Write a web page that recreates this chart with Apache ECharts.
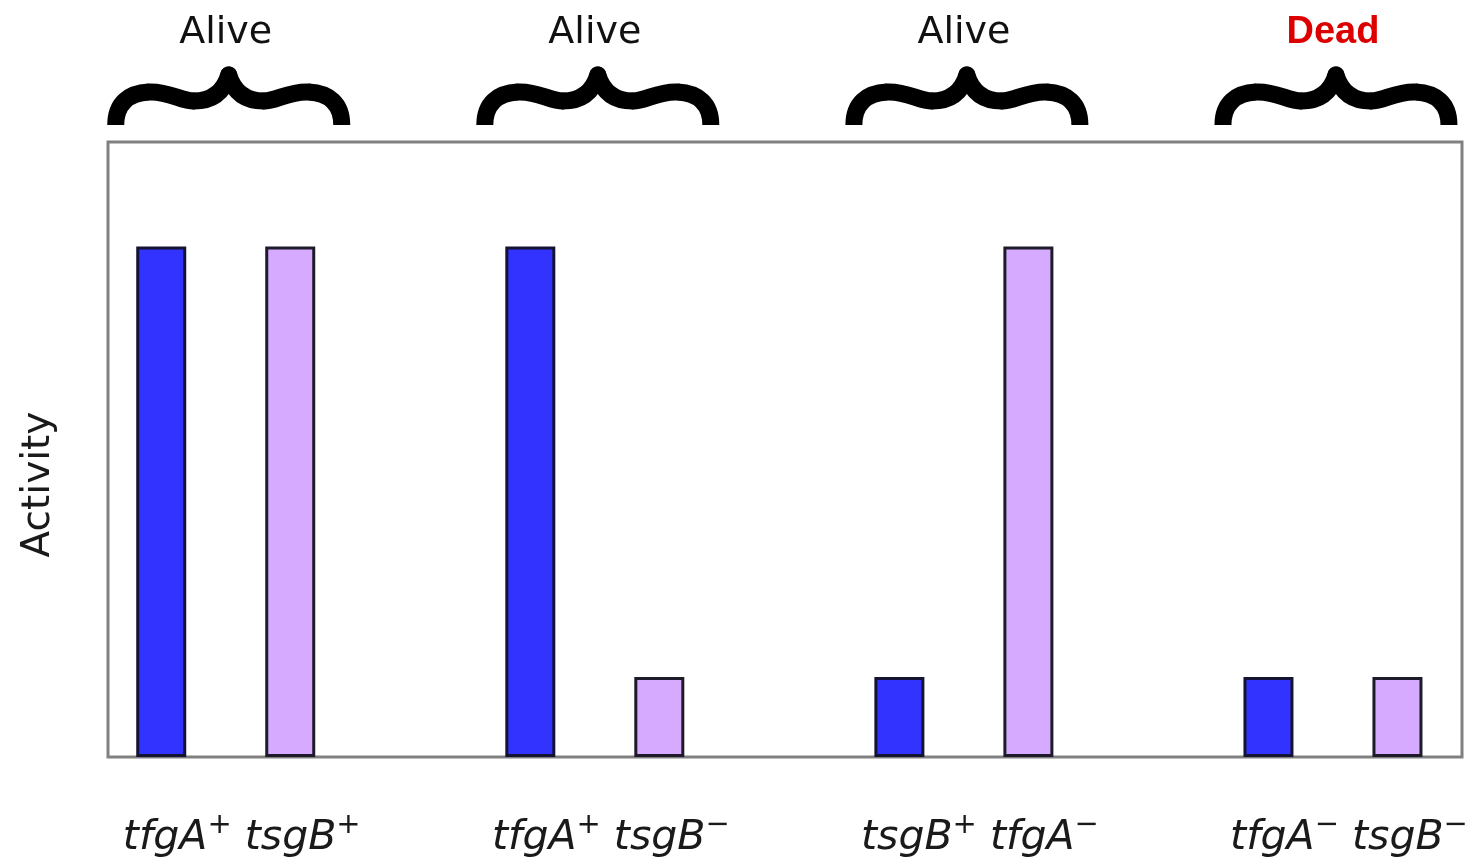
<!DOCTYPE html>
<html><head><meta charset="utf-8">
<script src="https://cdn.jsdelivr.net/npm/echarts@6/dist/echarts.min.js"></script>
<style>html,body{margin:0;padding:0;background:#fff}#c{width:1468px;height:861px}</style>
</head><body><div id="c"></div>
<script>
// ---- data ----
const categories = ['tfgA+ tsgB+', 'tfgA+ tsgB-', 'tsgB+ tfgA-', 'tfgA- tsgB-'];
const labelParts = [
  ['tfgA', '+', 'tsgB', '+'],
  ['tfgA', '+', 'tsgB', '\u2212'],
  ['tsgB', '+', 'tfgA', '\u2212'],
  ['tfgA', '\u2212', 'tsgB', '\u2212']
];
const statusLabels = ['Alive', 'Alive', 'Alive', 'Dead'];
const blueValues = [83, 83, 13, 13];
const lilacValues = [83, 13, 83, 13];
const yAxisName = 'Activity';

const FONT = 'Liberation Sans, Arial, sans-serif';
const DFONT = 'DejaVu Sans, sans-serif';
const chart = echarts.init(document.getElementById('c'));

chart.setOption({
  animation: false,
  backgroundColor: '#ffffff',
  grid: [
    { left: 41.2, width: 1476.3, top: 142, bottom: 104, outerBoundsMode: 'none', containLabel: false },
    { left: 108, right: 6, top: 142, bottom: 104, show: true, borderColor: '#808080', borderWidth: 3,
      backgroundColor: 'transparent', outerBoundsMode: 'none', containLabel: false }
  ],
  xAxis: [
    { type: 'category', gridIndex: 0, data: categories, position: 'bottom',
      axisLine: { show: false }, axisTick: { show: false }, splitLine: { show: false },
      axisLabel: {
        interval: 0, margin: 54, padding: [0, 0, 0, 32],
        formatter: function (v, i) {
          const p = labelParts[i];
          return '{i|' + p[0] + '}{s|' + p[1] + '}{sp| }{i|' + p[2] + '}{s|' + p[3] + '}';
        },
        rich: {
          i: { fontFamily: DFONT, fontStyle: 'italic', fontSize: 41, color: '#1a1a1a', lineHeight: 48, verticalAlign: 'bottom' },
          s: { fontFamily: DFONT, fontSize: 29, color: '#1a1a1a', lineHeight: 32, verticalAlign: 'top' },
          sp: { fontFamily: DFONT, fontSize: 41, lineHeight: 48 }
        }
      }
    },
    { type: 'category', gridIndex: 0, data: categories, position: 'top',
      axisLine: { show: false }, axisTick: { show: false }, splitLine: { show: false },
      axisLabel: {
        interval: 0, margin: 90,
        formatter: function (v, i) {
          return statusLabels[i] === 'Dead' ? '{d|' + statusLabels[i] + '}' : '{a|' + statusLabels[i] + '}';
        },
        rich: {
          a: { fontFamily: DFONT, fontSize: 38, color: '#111111' },
          d: { fontFamily: FONT, fontSize: 38, fontWeight: 'bold', color: '#dd0000' }
        }
      }
    },
    { type: 'value', gridIndex: 1, show: false, min: 0, max: 1 }
  ],
  yAxis: [
    { type: 'value', gridIndex: 0, min: 0, max: 100, show: false },
    { type: 'value', gridIndex: 1, min: 0, max: 1,
      axisLine: { show: false }, axisTick: { show: false }, axisLabel: { show: false }, splitLine: { show: false },
      name: yAxisName, nameLocation: 'middle', nameGap: 50, nameRotate: 90,
      nameTextStyle: { fontFamily: DFONT, fontSize: 39, color: '#1a1a1a', padding: [0, 70, 0, 0] }
    }
  ],
  series: [
    { name: 'tfgA', type: 'bar', xAxisIndex: 0, yAxisIndex: 0, data: blueValues,
      barWidth: 50, barGap: '158%',
      itemStyle: { color: '#3333ff', borderColor: '#141432', borderWidth: 3 } },
    { name: 'tsgB', type: 'bar', xAxisIndex: 0, yAxisIndex: 0, data: lilacValues,
      barWidth: 50, barGap: '158%',
      itemStyle: { color: '#d5aaff', borderColor: '#1e1a2a', borderWidth: 3 } }
  ]
});

// curly braces above each group, positioned through the category scale
const braceSegs = [
  // [x1,y1, cp1x,cp1y, cp2x,cp2y, x2,y2, cap] relative to (group center, 65)
  [-113, 60, -113, 38, -100, 28, -80, 27, 'butt'],
  [-80, 27, -60, 26, -48, 36, -35, 36, 'round'],
  [-35, 36, -20, 36, -6, 30, 0, 10, 'round']
];
const graphics = [];
categories.forEach(function (c, i) {
  const cx = chart.convertToPixel({ xAxisIndex: 0 }, i) + 3;
  const y0 = 65;
  [1, -1].forEach(function (m) {
    braceSegs.forEach(function (s) {
      graphics.push({
        type: 'bezierCurve', silent: true,
        shape: {
          x1: cx + m * s[0], y1: y0 + s[1],
          cpx1: cx + m * s[2], cpy1: y0 + s[3],
          cpx2: cx + m * s[4], cpy2: y0 + s[5],
          x2: cx + m * s[6], y2: y0 + s[7]
        },
        style: { fill: null, stroke: '#000000', lineWidth: 17, lineCap: s[8] }
      });
    });
  });
});
chart.setOption({ graphic: graphics });
</script>
</body></html>
